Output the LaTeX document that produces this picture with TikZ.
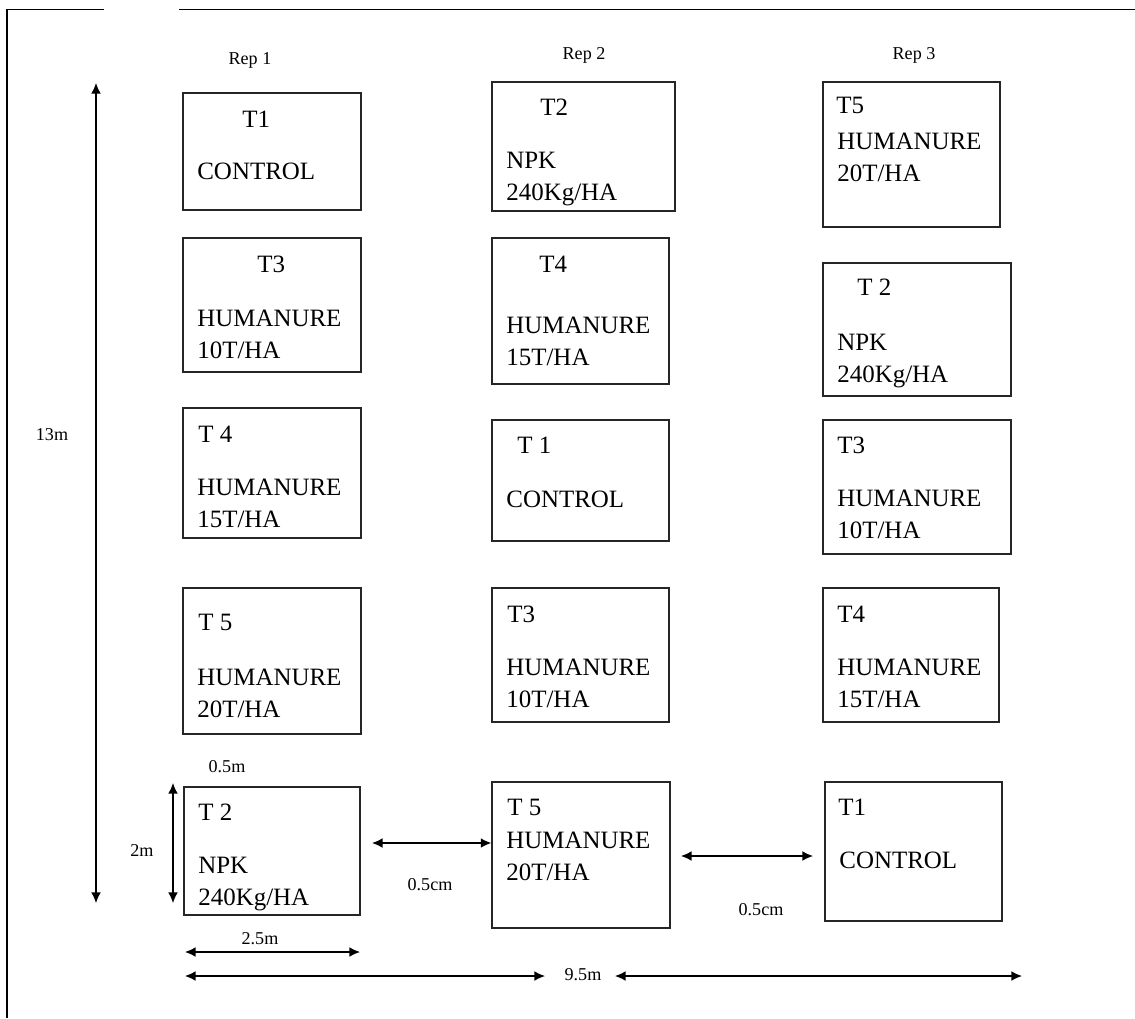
\documentclass[tikz,border=0pt]{standalone}
\usepackage{fontspec}
\setmainfont{Liberation Serif}
\usetikzlibrary{arrows.meta,positioning,fit,calc}

\tikzset{
  plotbox/.style={draw=black!85, line width=0.8pt, inner sep=0pt},
  big/.style={font=\fontsize{14.2}{18.2}\selectfont, inner sep=0pt, anchor=base west, align=left},
  small/.style={font=\fontsize{10.3}{12}\selectfont, inner sep=0pt},
  dim/.style={{Latex[length=6pt,width=5.5pt]}-{Latex[length=6pt,width=5.5pt]}, line width=0.7pt}
}

\begin{document}
\begin{tikzpicture}[x=0.02cm, y=-0.02cm]
\useasboundingbox (0,0) rectangle (1135,1018);
\draw[line width=0.7pt] (104,9.5) -- (7,9.5) -- (7,1018);
\draw[line width=0.7pt] (179,9.5) -- (1135,9.5);

\node[small] (rep1) at (250,60) {Rep 1};
\node[small] (rep2) at (584,55) {Rep 2};
\node[small] (rep3) at (914,55) {Rep 3};

% body text sits on the baseline of its last line
\foreach \n/\xa/\ya/\xb/\yb/\tx/\ty/\t/\by/\body in {
    a1/183/93/361/210/242/127/T1/179/CONTROL,
    a2/183/238/361/372/257/272/T3/358/{HUMANURE\\10T/HA},
    a3/183/408/361/538/198/442/T 4/527/{HUMANURE\\15T/HA},
    a4/183/588/361/734/198/630/T 5/717/{HUMANURE\\20T/HA},
    a5/184/787/360/915/198/820/T 2/905/{NPK\\240Kg/HA},
    b1/492/82/675/211/540/115/T2/200/{NPK\\240Kg/HA},
    b2/492/238/669/384/539/272/T4/365/{HUMANURE\\15T/HA},
    b3/492/420/669/541/517/453/T 1/507/CONTROL,
    b4/492/588/669/722/507/622/T3/707/{HUMANURE\\10T/HA},
    b5/492/782/670/928/507/815/T 5/880/{HUMANURE\\20T/HA},
    c1/823/82/1000/227/836/113/T5/181/{HUMANURE\\20T/HA},
    c2/823/263/1011/396/857/295/T 2/382/{NPK\\240Kg/HA},
    c3/823/420/1011/554/837/453/T3/538/{HUMANURE\\10T/HA},
    c4/823/588/999/722/837/622/T4/707/{HUMANURE\\15T/HA},
    c5/825/782/1002/921/838/815/T1/868/CONTROL} {
    \node[plotbox, fit={(\xa,\ya) (\xb,\yb)}] (\n) {};
    \node[big] (\n-t) at (\tx,\ty) {\t};
    \node[big] (\n-b) at (\xa+14,\by) {\body};
}

\coordinate (top13) at (96,83);
\coordinate (bot13) at (96,903);
\draw[dim] (top13) -- (bot13);
\node[small] (len13) at (52,435) {13m};

\coordinate (top2) at (173,783);
\coordinate (bot2) at (173,903);
\draw[dim] (top2) -- (bot2);
\node[small] (len2) at (142,850) {2m};
\node[small] (gap05) at (227,767) {0.5m};

\coordinate (w25l) at (185,952);
\coordinate (w25r) at (360,952);
\draw[dim] (w25l) -- (w25r);
\node[small] (len25) at (260,939) {2.5m};

\coordinate (g1) at (372,843);
\draw[dim] (g1) -- (g1 -| b5.west);
\node[small] (cm1) at (430,885) {0.5cm};
\coordinate (g2l) at (681,856);
\coordinate (g2r) at (813,856);
\draw[dim] (g2l) -- (g2r);
\node[small] (cm2) at (761,910) {0.5cm};

\node[small] (len95) at (583,975) {9.5m};
\coordinate (w95l) at (185,976);
\coordinate (w95a) at (545,976);
\coordinate (w95b) at (615,976);
\coordinate (w95r) at (1022,976);
\draw[dim] (w95l) -- (w95a);
\draw[dim] (w95b) -- (w95r);
\end{tikzpicture}
\end{document}
